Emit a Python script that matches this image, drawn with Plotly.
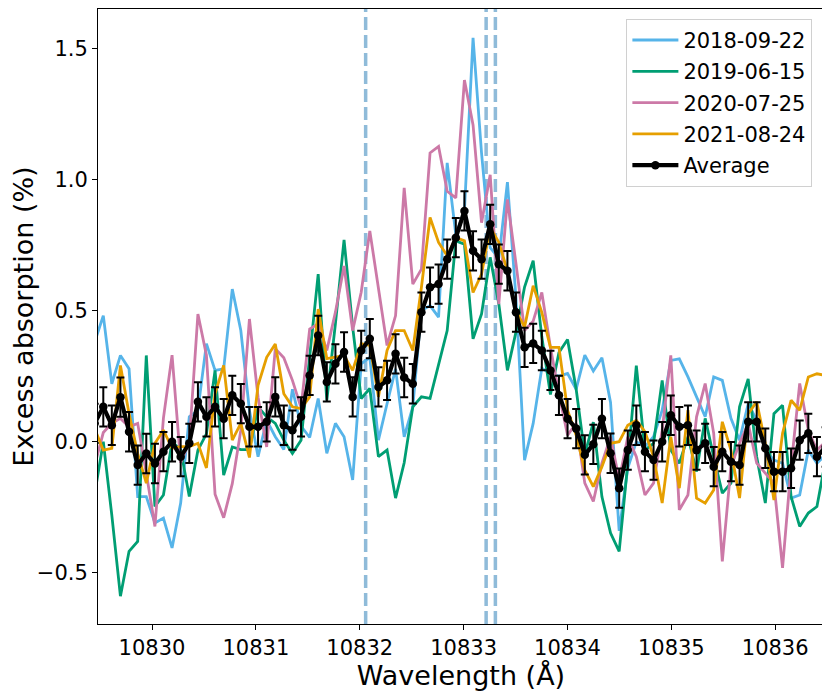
import plotly.graph_objects as go

# wavelength grid (Angstrom)
wavelength = [
    10829.448, 10829.531, 10829.613, 10829.696, 10829.779, 10829.862, 10829.945, 10830.028,
    10830.110, 10830.193, 10830.276, 10830.359, 10830.442, 10830.524, 10830.607, 10830.690,
    10830.773, 10830.855, 10830.938, 10831.021, 10831.104, 10831.187, 10831.269, 10831.352,
    10831.435, 10831.518, 10831.600, 10831.683, 10831.766, 10831.849, 10831.932, 10832.014,
    10832.097, 10832.180, 10832.263, 10832.345, 10832.428, 10832.511, 10832.594, 10832.677,
    10832.759, 10832.842, 10832.925, 10833.008, 10833.091, 10833.173, 10833.256, 10833.339,
    10833.422, 10833.504, 10833.587, 10833.670, 10833.753, 10833.836, 10833.918, 10834.001,
    10834.084, 10834.167, 10834.249, 10834.332, 10834.415, 10834.498, 10834.581, 10834.663,
    10834.746, 10834.829, 10834.912, 10834.995, 10835.077, 10835.160, 10835.243, 10835.326,
    10835.408, 10835.491, 10835.574, 10835.657, 10835.740, 10835.822, 10835.905, 10835.988,
    10836.071, 10836.153, 10836.236, 10836.319, 10836.402, 10836.485,
]

# excess absorption (%) per night
night_2018 = [
    0.38, 0.481, 0.221, 0.329, 0.278, -0.209, -0.209, -0.31, -0.291, -0.405, -0.234, 0.095,
    0.12, 0.374, 0.272, 0.278, 0.582, 0.424, 0.12, -0.057, 0.082, 0.019, -0.03, 0.2,
    0.06, 0.016, 0.165, -0.044, 0.07, 0.019, -0.146, 0.297, 0.322, 0.006, 0.145, 0.278,
    0.019, 0.133, 0.5, 0.519, 0.475, 1.063, 0.79, 0.88, 1.54, 1.1, 0.74, 0.7,
    0.99, 0.55, -0.07, 0.07, 0.28, 0.26, 0.25, 0.26, 0.2, 0.33, 0.27, 0.32,
    0.15, -0.34, -0.1, 0.0, -0.019, 0.019, 0.12, 0.31, 0.316, 0.247, 0.171, 0.095,
    0.247, 0.234, 0.089, 0.006, 0.145, 0.082, -0.032, -0.07, -0.082, -0.215, -0.203, -0.032,
    -0.082, -0.05,
]
night_2019 = [
    -0.2, 0.0, -0.28, -0.589, -0.418, -0.38, 0.329, -0.247, -0.203, 0.0, -0.03, -0.209,
    -0.032, 0.03, 0.272, -0.127, -0.02, -0.03, -0.03, 0.133, 0.095, 0.07, 0.006, -0.045,
    0.006, 0.33, 0.639, 0.158, 0.45, 0.77, 0.437, 0.165, 0.203, -0.057, -0.032, -0.215,
    -0.08, 0.133, 0.171, 0.165, 0.297, 0.424, 0.766, 0.753, 0.392, 0.487, 0.703, 0.525,
    0.272, 0.418, 0.59, 0.69, 0.4, 0.18, 0.34, 0.39, 0.2, -0.05, 0.075, -0.21,
    -0.348, -0.418, -0.082, 0.29, -0.032, -0.006, 0.234, -0.032, -0.082, 0.019, -0.114, 0.089,
    -0.057, -0.196, -0.158, 0.133, 0.24, -0.057, -0.234, 0.107, 0.139, -0.209, -0.323, -0.272,
    -0.247, -0.07,
]
night_2020 = [
    -0.09, 0.035, 0.07, 0.089, 0.057, 0.07, -0.12, -0.323, 0.09, 0.33, -0.08, 0.0,
    0.487, 0.33, -0.2, -0.29, -0.16, 0.044, 0.468, 0.17, -0.02, 0.355, 0.32, 0.234,
    0.13, 0.43, 0.45, 0.348, 0.494, 0.67, 0.424, 0.57, 0.804, 0.589, 0.367, 0.481,
    0.968, 0.601, 0.658, 1.101, 1.126, 0.955, 0.93, 1.379, 1.208, 0.835, 1.018, 0.525,
    0.924, 0.68, 0.424, 0.46, 0.569, 0.36, 0.183, 0.025, 0.07, -0.158, -0.228, -0.082,
    0.019, -0.146, 0.019, -0.057, -0.203, -0.158, 0.044, 0.329, -0.26, -0.203, 0.095, 0.222,
    0.032, -0.456, -0.095, -0.006, 0.07, -0.082, -0.12, -0.158, -0.481, -0.095, 0.222, 0.044,
    -0.032, 0.0,
]
night_2021 = [
    0.05, -0.032, -0.025, 0.291, 0.107, -0.044, -0.158, -0.006, 0.044, -0.025, -0.019, -0.019,
    -0.006, -0.1, 0.183, 0.291, 0.006, 0.07, -0.06, 0.215, 0.322, 0.373, 0.183, 0.133,
    0.126, 0.171, 0.506, 0.317, 0.323, 0.329, 0.272, 0.374, 0.367, 0.171, 0.348, 0.424,
    0.424, 0.348, 0.589, 0.855, 0.76, 0.709, 0.779, 0.766, 0.569, 0.639, 0.817, 0.76,
    0.652, 0.5, 0.437, 0.595, 0.493, 0.36, 0.36, 0.12, 0.025, -0.108, -0.171, -0.095,
    -0.006, 0.0, 0.063, 0.082, 0.038, -0.057, -0.234, 0.019, -0.177, 0.12, -0.215, -0.234,
    -0.184, 0.076, -0.032, -0.215, 0.107, 0.152, -0.006, -0.222, 0.032, 0.158, 0.12, 0.247,
    0.259, 0.253,
]
average = [
    0.07, 0.133, 0.063, 0.17, 0.038, -0.089, -0.045, -0.083, -0.038, 0.0, -0.057, -0.006,
    0.152, 0.095, 0.133, 0.088, 0.177, 0.145, 0.057, 0.057, 0.076, 0.171, 0.063, 0.044,
    0.095, 0.253, 0.405, 0.228, 0.297, 0.342, 0.171, 0.348, 0.393, 0.209, 0.234, 0.335,
    0.245, 0.221, 0.494, 0.589, 0.601, 0.696, 0.778, 0.880, 0.728, 0.696, 0.829, 0.677,
    0.652, 0.494, 0.36, 0.375, 0.348, 0.272, 0.177, 0.088, 0.05, -0.05, -0.01, 0.088,
    -0.044, -0.177, -0.032, 0.063, -0.038, -0.070, 0.0, 0.101, 0.057, 0.063, -0.032, -0.006,
    -0.095, -0.038, -0.076, -0.089, 0.076, 0.076, -0.025, -0.114, -0.114, -0.101, 0.006, 0.032,
    -0.057, -0.02,
]
average_err = 0.075

# He I triplet (Angstrom)
he_lines = [10832.057, 10833.217, 10833.306]

nights = [
    ("2018-09-22", night_2018, "#56B4E9"),
    ("2019-06-15", night_2019, "#009E73"),
    ("2020-07-25", night_2020, "#CC79A7"),
    ("2021-08-24", night_2021, "#E69F00"),
]

FONT = "DejaVu Sans"

fig = go.Figure()

for name, vals, col in nights:
    fig.add_trace(go.Scatter(
        x=wavelength, y=vals, name=name, mode="lines", legendgroup=name,
        line=dict(color=col, width=2.8),
    ))

fig.add_trace(go.Scatter(
    x=wavelength, y=average, name="Average", mode="lines+markers",
    legendgroup="Average",
    line=dict(color="black", width=4.2),
    marker=dict(color="black", size=8.5),
    error_y=dict(type="constant", value=average_err, color="black",
                 thickness=2, width=4),
))

for wl in he_lines:
    fig.add_shape(
        type="line", xref="x", yref="paper", x0=wl, x1=wl, y0=0, y1=1,
        line=dict(color="rgba(31,119,180,0.5)", width=3.5, dash="13px,5px"),
        layer="below",
    )

# the page body adds an 8px offset, so the figure is a bit smaller than the window
fig.update_layout(
    width=822, height=685,
    margin=dict(l=85, r=6, t=0, b=69),
    paper_bgcolor="white", plot_bgcolor="white",
    font=dict(family=FONT, size=21, color="black"),
    showlegend=True,
    legend=dict(
        x=0.984, y=0.984, xanchor="right", yanchor="top",
        bgcolor="white", bordercolor="#d0d0d0", borderwidth=1,
        font=dict(family=FONT, size=21), itemwidth=46,
        tracegroupgap=1,
    ),
)

fig.update_xaxes(
    range=[10829.48, 10836.47], dtick=1, tickformat="d",
    showgrid=False, zeroline=False,
    showline=True, linecolor="black", linewidth=1, mirror=True,
    ticks="outside", ticklen=5, tickcolor="black",
    tickfont=dict(size=21),
    title=dict(text="Wavelength (Å)", font=dict(size=27), standoff=1),
)
fig.update_yaxes(
    range=[-0.695, 1.65], tickvals=[-0.5, 0.0, 0.5, 1.0, 1.5], tickformat=".1f",
    showgrid=False, zeroline=False,
    showline=True, linecolor="black", linewidth=1, mirror=True,
    ticks="outside", ticklen=5, tickcolor="black",
    tickfont=dict(size=21),
    title=dict(text="Excess absorption (%)", font=dict(size=27), standoff=10),
)

fig.write_html("out.html")
